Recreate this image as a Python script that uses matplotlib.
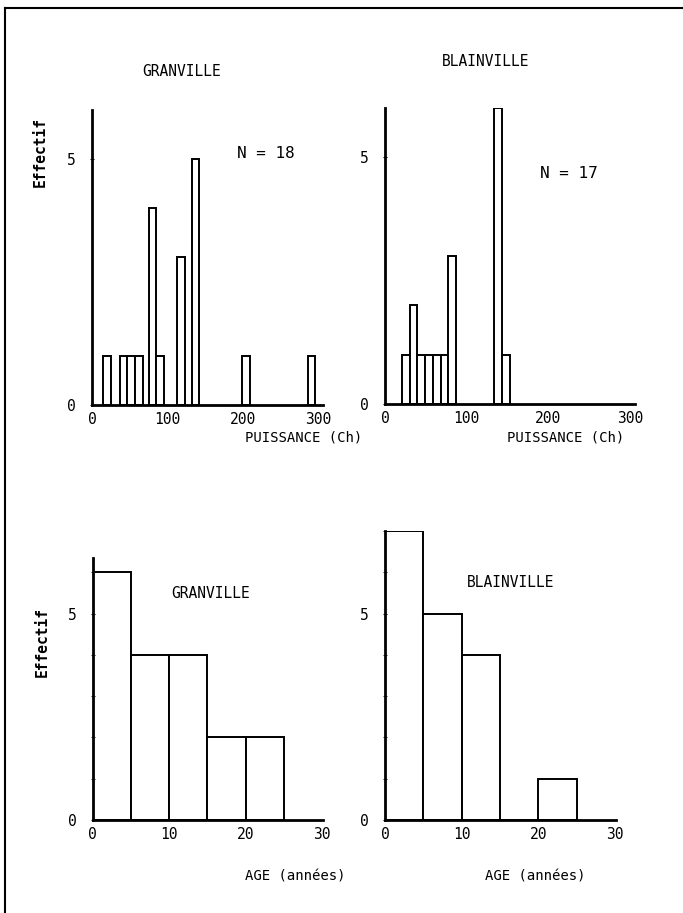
import matplotlib
matplotlib.use("Agg")
import matplotlib.pyplot as plt
from matplotlib.lines import Line2D

# puissance (Ch): bord gauche de chaque classe et effectif
puissance_granville = [15, 37, 47, 57, 75, 85, 113, 132, 199, 286]
effectif_granville_p = [1, 1, 1, 1, 4, 1, 3, 5, 1, 1]
puissance_blainville = [20.5, 30, 39.5, 49, 58.5, 68, 77.5, 133.5, 143]
effectif_blainville_p = [1, 2, 1, 1, 1, 1, 3, 6, 1]

# age (annees): classes de 5 ans
age_classes = [0, 5, 10, 15, 20]
effectif_granville_age = [6, 4, 4, 2, 2]
effectif_blainville_age = [7, 5, 4, 0, 1]

W, H = 683, 913
FONT = "DejaVu Sans Mono"
plt.rcParams['font.family'] = [FONT]

fig = plt.figure(figsize=(W / 100, H / 100), dpi=100)


def px_axes(x0, x1, y_base, y_top):
    return fig.add_axes([x0 / W, 1 - y_base / H, (x1 - x0) / W, (y_base - y_top) / H])


def ftext(x, y, s, **kw):
    fig.text(x / W, 1 - y / H, s, ha='center', va='center', **kw)


def style(ax, xmax, ymax, xticks, minor_y):
    ax.set_xlim(0, xmax)
    ax.set_ylim(0, ymax)
    for s in ['top', 'right']:
        ax.spines[s].set_visible(False)
    for s in ['left', 'bottom']:
        ax.spines[s].set_linewidth(2)
    ax.set_xticks(xticks)
    ax.set_xticklabels([str(t) for t in xticks], fontsize=10.5)
    ax.tick_params(axis='x', length=0, pad=5)
    ax.set_yticks([0, 5])
    ax.set_yticklabels(['0', '5'], fontsize=10.5)
    ax.tick_params(axis='y', length=3, direction='inout', pad=10)
    if minor_y:
        ax.set_yticks(range(0, int(ymax) + 1), minor=True)
        ax.tick_params(axis='y', which='minor', length=3, direction='inout')
    ax.patch.set_alpha(0)


bar_kw = dict(align='edge', facecolor='white', edgecolor='black', linewidth=1.4)

ax1 = px_axes(92, 323, 405, 110)
ax1.bar(puissance_granville, effectif_granville_p, width=10, **bar_kw)
style(ax1, 306, 6, [0, 100, 200, 300], False)

ax2 = px_axes(385, 635, 404, 108)
ax2.bar(puissance_blainville, effectif_blainville_p, width=9.5, **bar_kw)
style(ax2, 306, 6, [0, 100, 200, 300], False)

ax3 = px_axes(92.7, 323, 820, 558)
ax3.bar(age_classes, effectif_granville_age, width=5, **bar_kw)
style(ax3, 30.1, 6.35, [0, 10, 20, 30], True)

ax4 = px_axes(385, 615.7, 820, 531)
ax4.bar(age_classes, effectif_blainville_age, width=5, **bar_kw)
style(ax4, 30.1, 7, [0, 10, 20, 30], True)

ftext(182, 72, "GRANVILLE", fontsize=10.5)
ftext(486, 62, "BLAINVILLE", fontsize=10.5)
ftext(266, 153, "N = 18", fontsize=11.5)
ftext(569, 173, "N = 17", fontsize=11.5)
ftext(304, 437, "PUISSANCE (Ch)", fontsize=10)
ftext(566, 437, "PUISSANCE (Ch)", fontsize=10)
ftext(211, 593, "GRANVILLE", fontsize=10.5)
ftext(511, 582, "BLAINVILLE", fontsize=10.5)
ftext(295, 876, "AGE (années)", fontsize=10)
ftext(535, 876, "AGE (années)", fontsize=10)
ftext(40, 152, "Effectif", fontsize=10.5, rotation=90, fontweight='bold')
ftext(42, 642, "Effectif", fontsize=10.5, rotation=90, fontweight='bold')

# cadre de la page
fig.add_artist(Line2D([5 / W, 1], [1 - 8 / H, 1 - 8 / H], color='black', lw=1.5, transform=fig.transFigure))
fig.add_artist(Line2D([5 / W, 5 / W], [0, 1 - 8 / H], color='black', lw=1.5, transform=fig.transFigure))

fig.savefig("out.png", dpi=100)
